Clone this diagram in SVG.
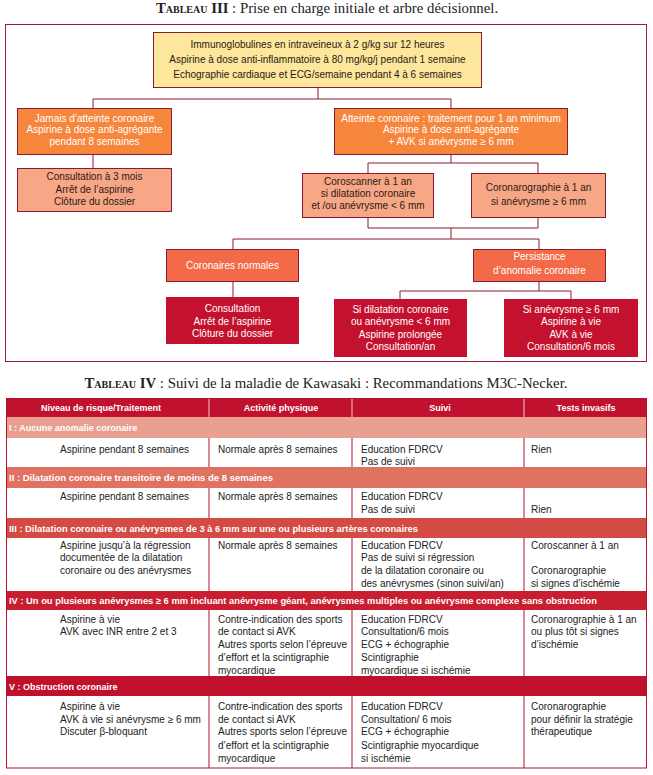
<svg xmlns="http://www.w3.org/2000/svg" width="653" height="775" viewBox="0 0 653 775">
<style>
text{font-family:"Liberation Sans",Arial,sans-serif;font-size:10px}
.t{font-family:"Liberation Serif","Times New Roman",serif;font-size:14.8px;fill:#222}
.sc{font-variant:small-caps;font-weight:bold}
.c{text-anchor:middle}
.w{fill:#fff}
.k{fill:#2a1a14}
.bx{stroke:#8c1a33;stroke-width:1}
.yel{fill:#fde79c}
.org{fill:#f5863c}
.sal{fill:#f8a786}
.red{fill:#f26a48}
.dk{fill:#c3112e}
.con{fill:none;stroke:#8c1a33;stroke-width:1}
.hd{font-weight:bold;font-size:9px;fill:#fff}
.cell{fill:#222}
.grid{stroke:#b0152d;stroke-width:1;fill:none}
</style>
<text class="t c" x="327" y="13"><tspan class="sc">Tableau III</tspan> : Prise en charge initiale et arbre décisionnel.</text>
<rect x="5.5" y="24.5" width="641" height="337" fill="#fff" stroke="#9a1b3b" stroke-width="1"/>
<g id="connectors">
<path class="con" d="M318 88V99M93 99H451M93 99V108M451 99V108M93 155V168M451 155V163M368 163H538M368 163V173M538 163V173M368 217V228H538V217M451 228V239M233 239H539M233 239V249M539 239V249M233 281V297M539 281V291M400 291H571M400 291V299M571 291V299"/>
</g>
<g id="n-top"><rect class="bx yel" x="153.5" y="32.5" width="328" height="55"/>
<text class="c k" x="317.5" y="47.5">Immunoglobulines en intraveineux à 2 g/kg sur 12 heures</text>
<text class="c k" x="317.5" y="63">Aspirine à dose anti-inflammatoire à 80 mg/kg/j pendant 1 semaine</text>
<text class="c k" x="317.5" y="78">Echographie cardiaque et ECG/semaine pendant 4 à 6 semaines</text></g>
<g id="n-jamais"><rect class="bx org" x="17.5" y="108.5" width="154" height="46"/>
<text class="c w" x="94.5" y="121.5">Jamais d’atteinte coronaire</text>
<text class="c w" x="94.5" y="133">Aspirine à dose anti-agrégante</text>
<text class="c w" x="94.5" y="144.5">pendant 8 semaines</text></g>
<g id="n-atteinte"><rect class="bx org" x="334.5" y="108.5" width="233" height="46"/>
<text class="c w" x="451" y="121.5">Atteinte coronaire : traitement pour 1 an minimum</text>
<text class="c w" x="451" y="133">Aspirine à dose anti-agrégante</text>
<text class="c w" x="451" y="144.5">+ AVK si anévrysme ≥ 6 mm</text></g>
<g id="n-consult3"><rect class="bx sal" x="17.5" y="168.5" width="154" height="43"/>
<text class="c k" x="94.5" y="180">Consultation à 3 mois</text>
<text class="c k" x="94.5" y="193">Arrêt de l’aspirine</text>
<text class="c k" x="94.5" y="205">Clôture du dossier</text></g>
<g id="n-coroscanner"><rect class="bx sal" x="302.5" y="173.5" width="131" height="44"/>
<text class="c k" x="368" y="185">Coroscanner à 1 an</text>
<text class="c k" x="368" y="197">si dilatation coronaire</text>
<text class="c k" x="368" y="209">et /ou anévrysme &lt; 6 mm</text></g>
<g id="n-coronaro"><rect class="bx sal" x="471.5" y="173.5" width="134" height="44"/>
<text class="c k" x="538.5" y="191">Coronarographie à 1 an</text>
<text class="c k" x="538.5" y="204.5">si anévrysme ≥ 6 mm</text></g>
<g id="n-normales"><rect class="bx red" x="166.5" y="249.5" width="132" height="32"/>
<text class="c w" x="232.5" y="268.5">Coronaires normales</text></g>
<g id="n-persist"><rect class="bx red" x="473.5" y="249.5" width="132" height="32"/>
<text class="c w" x="539.5" y="260">Persistance</text>
<text class="c w" x="539.5" y="273.5">d’anomalie coronaire</text></g>
<g id="n-consult"><rect class="dk" x="166" y="297" width="133" height="47"/>
<text class="c w" x="232.5" y="312">Consultation</text>
<text class="c w" x="232.5" y="324.5">Arrêt de l’aspirine</text>
<text class="c w" x="232.5" y="337">Clôture du dossier</text></g>
<g id="n-dilat"><rect class="dk" x="334" y="299" width="133" height="58"/>
<text class="c w" x="400.5" y="312.5">Si dilatation coronaire</text>
<text class="c w" x="400.5" y="325">ou anévrysme &lt; 6 mm</text>
<text class="c w" x="400.5" y="337.5">Aspirine prolongée</text>
<text class="c w" x="400.5" y="350">Consultation/an</text></g>
<g id="n-anev"><rect class="dk" x="504" y="299" width="134" height="58"/>
<text class="c w" x="571" y="312.5">Si anévrysme ≥ 6 mm</text>
<text class="c w" x="571" y="325">Aspirine à vie</text>
<text class="c w" x="571" y="337.5">AVK à vie</text>
<text class="c w" x="571" y="350">Consultation/6 mois</text></g>

<text class="t c" x="326" y="388"><tspan class="sc">Tableau IV</tspan> : Suivi de la maladie de Kawasaki : Recommandations M3C-Necker.</text>
<g id="table">
<rect x="6" y="398" width="641" height="19" fill="#c0122e"/>
<rect x="6" y="417" width="641" height="21" fill="#e9a090"/>
<rect x="6" y="467" width="641" height="21" fill="#e07262"/>
<rect x="6" y="518" width="641" height="20" fill="#d44a44"/>
<rect x="6" y="591" width="641" height="19" fill="#c91e30"/>
<rect x="6" y="676" width="641" height="20" fill="#c0102b"/>
<path d="M209 398V417M352 398V417M524 398V417" stroke="#f3c9c9" stroke-width="1"/>
<path class="grid" d="M209 438V467M352 438V467M524 438V467M209 488V518M352 488V518M524 488V518M209 538V591M352 538V591M524 538V591M209 610V676M352 610V676M524 610V676M209 696V768M352 696V768M524 696V768"/>
<rect class="grid" x="6.5" y="398.5" width="640" height="369.5"/>
<text class="hd c" x="101" y="411">Niveau de risque/Traitement</text>
<text class="hd c" x="281" y="411">Activité physique</text>
<text class="hd c" x="440" y="411">Suivi</text>
<text class="hd c" x="586" y="411">Tests invasifs</text>
<text class="hd" x="9" y="431">I : Aucune anomalie coronaire</text>
<text class="hd" x="9" y="481" textLength="264" lengthAdjust="spacingAndGlyphs">II : Dilatation coronaire transitoire de moins de 8 semaines</text>
<text class="hd" x="9" y="531.5" textLength="409" lengthAdjust="spacingAndGlyphs">III : Dilatation coronaire ou anévrysmes de 3 à 6 mm sur une ou plusieurs artères coronaires</text>
<text class="hd" x="9" y="604" textLength="588" lengthAdjust="spacingAndGlyphs">IV : Un ou plusieurs anévrysmes ≥ 6 mm incluant anévrysme géant, anévrysmes multiples ou anévrysme complexe sans obstruction</text>
<text class="hd" x="9" y="689.5">V : Obstruction coronaire</text>

<text class="cell" x="60" y="452.5">Aspirine pendant 8 semaines</text>
<text class="cell" x="218" y="452.5">Normale après 8 semaines</text>
<text class="cell" x="361" y="452.5">Education FDRCV</text>
<text class="cell" x="361" y="465">Pas de suivi</text>
<text class="cell" x="531" y="452.5">Rien</text>

<text class="cell" x="60" y="499.5">Aspirine pendant 8 semaines</text>
<text class="cell" x="218" y="499.5">Normale après 8 semaines</text>
<text class="cell" x="361" y="499.5">Education FDRCV</text>
<text class="cell" x="361" y="512.5">Pas de suivi</text>
<text class="cell" x="531" y="512.5">Rien</text>

<text class="cell" x="60" y="548.5">Aspirine jusqu’à la régression</text>
<text class="cell" x="60" y="561">documentée de la dilatation</text>
<text class="cell" x="60" y="574">coronaire ou des anévrysmes</text>
<text class="cell" x="218" y="548.5">Normale après 8 semaines</text>
<text class="cell" x="361" y="548.5">Education FDRCV</text>
<text class="cell" x="361" y="561">Pas de suivi si régression</text>
<text class="cell" x="361" y="574">de la dilatation coronaire ou</text>
<text class="cell" x="361" y="586.5">des anévrysmes (sinon suivi/an)</text>
<text class="cell" x="531" y="548.5">Coroscanner à 1 an</text>
<text class="cell" x="531" y="574">Coronarographie</text>
<text class="cell" x="531" y="586.5">si signes d’ischémie</text>

<text class="cell" x="60" y="622.5">Aspirine à vie</text>
<text class="cell" x="60" y="635">AVK avec INR entre 2 et 3</text>
<text class="cell" x="218" y="622.5">Contre-indication des sports</text>
<text class="cell" x="218" y="635">de contact si AVK</text>
<text class="cell" x="218" y="648">Autres sports selon l’épreuve</text>
<text class="cell" x="218" y="660.7">d’effort et la scintigraphie</text>
<text class="cell" x="218" y="673.5">myocardique</text>
<text class="cell" x="361" y="622.5">Education FDRCV</text>
<text class="cell" x="361" y="635">Consultation/6 mois</text>
<text class="cell" x="361" y="648">ECG + échographie</text>
<text class="cell" x="361" y="660.7">Scintigraphie</text>
<text class="cell" x="361" y="673.5">myocardique si ischémie</text>
<text class="cell" x="531" y="622.5">Coronarographie à 1 an</text>
<text class="cell" x="531" y="635">ou plus tôt si signes</text>
<text class="cell" x="531" y="648">d’ischémie</text>

<text class="cell" x="60" y="709.5">Aspirine à vie</text>
<text class="cell" x="60" y="722.5">AVK à vie si anévrysme ≥ 6 mm</text>
<text class="cell" x="60" y="735.2">Discuter β-bloquant</text>
<text class="cell" x="218" y="709.5">Contre-indication des sports</text>
<text class="cell" x="218" y="722.5">de contact si AVK</text>
<text class="cell" x="218" y="735.2">Autres sports selon l’épreuve</text>
<text class="cell" x="218" y="748.5">d’effort et la scintigraphie</text>
<text class="cell" x="218" y="761.5">myocardique</text>
<text class="cell" x="361" y="709.5">Education FDRCV</text>
<text class="cell" x="361" y="722.5">Consultation/ 6 mois</text>
<text class="cell" x="361" y="735.2">ECG + échographie</text>
<text class="cell" x="361" y="748.5">Scintigraphie myocardique</text>
<text class="cell" x="361" y="761.5">si ischémie</text>
<text class="cell" x="531" y="709.5">Coronarographie</text>
<text class="cell" x="531" y="722.5">pour définir la stratégie</text>
<text class="cell" x="531" y="735.2">thérapeutique</text>
</g>
</svg>
